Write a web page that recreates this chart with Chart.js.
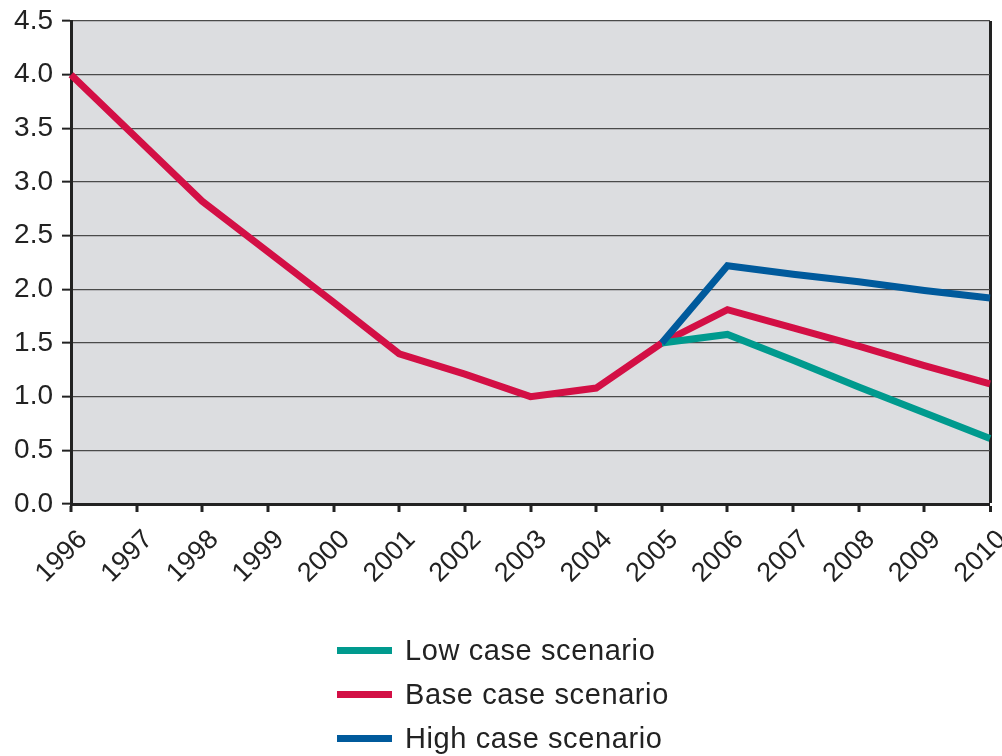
<!DOCTYPE html>
<html>
<head>
<meta charset="utf-8">
<script src="https://cdn.jsdelivr.net/npm/chart.js@4/dist/chart.umd.min.js"></script>
<style>
html,body{margin:0;padding:0;background:#fff;}
#wrap{position:relative;width:1002px;height:756px;}
#legend{position:absolute;left:337px;top:628px;font-family:"Liberation Sans",Arial,sans-serif;font-size:29px;letter-spacing:0.6px;color:#222;}
#legend div{height:44px;display:flex;align-items:center;}
#legend span.sw{display:inline-block;width:55px;height:7px;margin-right:13px;}
</style>
</head>
<body>
<div id="wrap">
<canvas id="grafik" width="1002" height="756"></canvas>
<div id="legend"></div>
</div>
<script>
// data
const years=["1996","1997","1998","1999","2000","2001","2002","2003","2004","2005","2006","2007","2008","2009","2010"];
const lowCase=[null,null,null,null,null,null,null,null,null,1.5,1.58,1.34,1.09,0.85,0.61];
const baseCase=[4.0,3.41,2.82,2.35,1.88,1.40,1.21,1.0,1.08,1.5,1.81,1.64,1.47,1.29,1.12];
const highCase=[null,null,null,null,null,null,null,null,null,1.5,2.22,2.14,2.07,1.99,1.92];
const yTicks=[0,0.5,1,1.5,2,2.5,3,3.5,4,4.5];

const bgPlugin={
id:"plotBg",
beforeDraw(chart){
const a=chart.chartArea,c=chart.ctx;
c.save();
c.fillStyle="#dcdde0";
c.fillRect(a.left,a.top,a.right-a.left,a.bottom-a.top);
c.restore();
}
};

const fontX={family:"'Liberation Sans', Arial, sans-serif",size:27};
const fontY={family:"'Liberation Sans', Arial, sans-serif",size:28};

const chart=new Chart(document.getElementById("grafik"),{
type:"line",
data:{
labels:years,
datasets:[
{label:"Low case scenario",data:lowCase,borderColor:"#009a8e",order:1},
{label:"Base case scenario",data:baseCase,borderColor:"#d30f45",order:2},
{label:"High case scenario",data:highCase,borderColor:"#005a9c",order:0}
]
},
options:{
responsive:false,
animation:false,
elements:{
line:{borderWidth:7,tension:0,borderJoinStyle:"miter",borderCapStyle:"butt"},
point:{radius:0,hoverRadius:0}
},
layout:{padding:{top:21,right:12,bottom:0,left:0}},
plugins:{legend:{display:false},tooltip:{enabled:false}},
scales:{
x:{
grid:{
color:(c)=>c.index===years.length-1?"#222":"rgba(0,0,0,0)",
lineWidth:(c)=>c.index===years.length-1?3:0,
tickColor:"#222",tickLength:8,tickWidth:3,offset:false
},
border:{color:"#222",width:3},
ticks:{color:"#222",font:fontX,minRotation:45,maxRotation:45,autoSkip:false,padding:12,labelOffset:12},
afterFit(s){s.height=252;s.paddingLeft=0;s.paddingRight=0;}
},
y:{
min:0,max:4.5,
afterBuildTicks(s){s.ticks=yTicks.map(v=>({value:v}));},
grid:{color:"#4a4a4a",lineWidth:1.3,tickColor:"#222",tickLength:9,tickWidth:2},
border:{color:"#222",width:3},
ticks:{color:"#222",font:fontY,padding:9,callback:(v)=>v.toFixed(1)},
afterFit(s){s.width=71;s.paddingTop=0;s.paddingBottom=0;}
}
}
},
plugins:[bgPlugin]
});

const lg=document.getElementById("legend");
chart.data.datasets.forEach(function(d){
const row=document.createElement("div");
row.innerHTML='<span class="sw" style="background:'+d.borderColor+'"></span>'+d.label;
lg.appendChild(row);
});
</script>
</body>
</html>
